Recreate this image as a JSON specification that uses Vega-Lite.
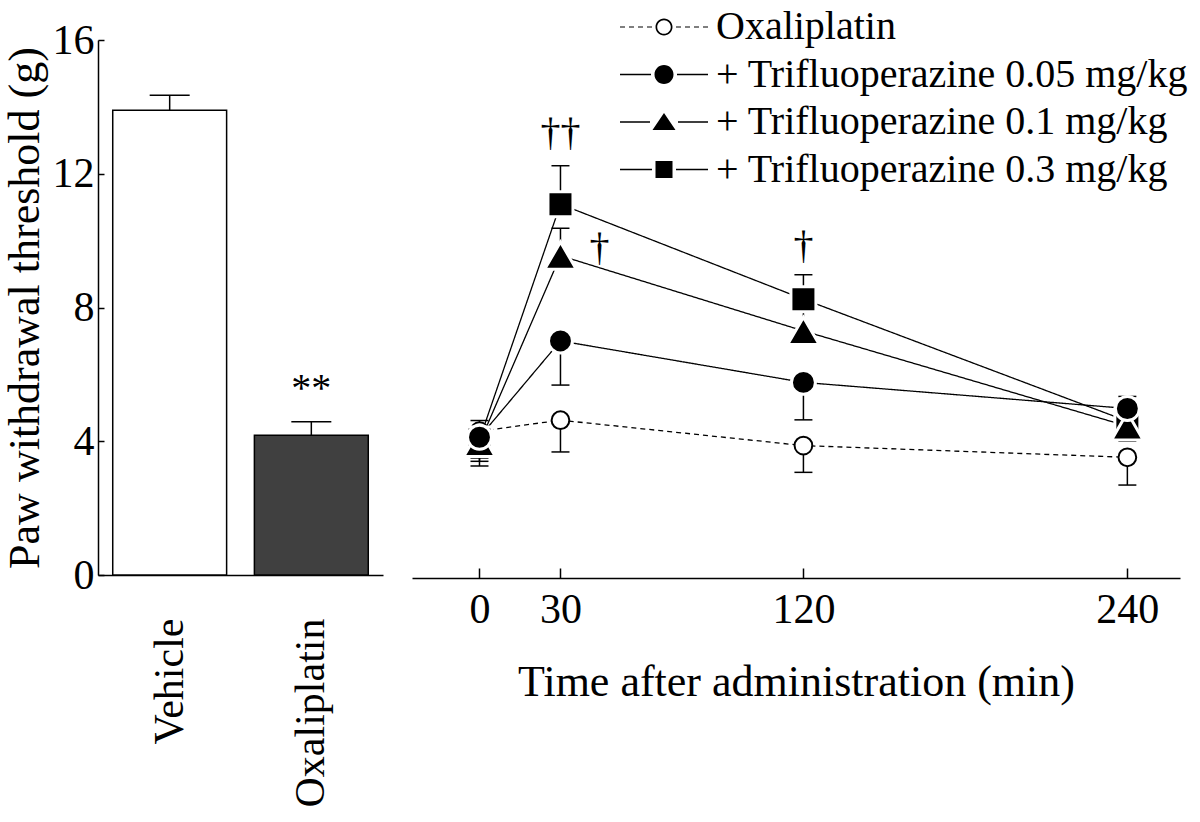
{
  "$schema": "https://vega.github.io/schema/vega-lite/v6.json",
  "background": "white",
  "padding": {"left": 2, "top": 7, "right": 5, "bottom": 5},
  "bounds": "flush",
  "spacing": 29,
  "resolve": {
    "scale": {"fill": "independent", "shape": "independent", "strokeDash": "independent"},
    "legend": {"shape": "independent", "fill": "independent", "strokeDash": "independent"}
  },
  "config": {
    "view": {"stroke": null},
    "font": "Liberation Serif",
    "axis": {"labelFont": "Liberation Serif", "titleFont": "Liberation Serif", "labelColor": "black", "titleColor": "black", "domainColor": "black", "tickColor": "black", "titleFontWeight": "normal", "grid": false, "domainWidth": 1.5, "tickWidth": 1.5, "labelOverlap": false, "labelFlush": false, "labelLimit": 0},
    "text": {"font": "Liberation Serif", "color": "black"}
  },
  "datasets": {
    "bars": [
      {"group": "Vehicle", "mean": 13.9, "end": 14.35},
      {"group": "Oxaliplatin", "mean": 4.18, "end": 4.58}
    ],
    "barnote": [
      {"group": "Oxaliplatin", "value": 5.2, "label": "**"}
    ],
    "lines": [
      {"series": "Oxaliplatin", "time": 0, "mean": 4.3, "end": 4.62},
      {"series": "Oxaliplatin", "time": 30, "mean": 4.63, "end": 3.68},
      {"series": "Oxaliplatin", "time": 120, "mean": 3.87, "end": 3.07},
      {"series": "Oxaliplatin", "time": 240, "mean": 3.52, "end": 2.69},
      {"series": "+ Trifluoperazine 0.3 mg/kg", "time": 0, "mean": 4.05, "end": 3.4},
      {"series": "+ Trifluoperazine 0.3 mg/kg", "time": 30, "mean": 11.09, "end": 12.24},
      {"series": "+ Trifluoperazine 0.3 mg/kg", "time": 120, "mean": 8.25, "end": 8.98},
      {"series": "+ Trifluoperazine 0.3 mg/kg", "time": 240, "mean": 4.6, "end": 4.1},
      {"series": "+ Trifluoperazine 0.1 mg/kg", "time": 0, "mean": 3.95, "end": 3.26},
      {"series": "+ Trifluoperazine 0.1 mg/kg", "time": 30, "mean": 9.55, "end": 10.37},
      {"series": "+ Trifluoperazine 0.1 mg/kg", "time": 120, "mean": 7.3, "end": 7.9},
      {"series": "+ Trifluoperazine 0.1 mg/kg", "time": 240, "mean": 4.45, "end": 4.0},
      {"series": "+ Trifluoperazine 0.05 mg/kg", "time": 0, "mean": 4.12, "end": 3.5},
      {"series": "+ Trifluoperazine 0.05 mg/kg", "time": 30, "mean": 7.0, "end": 5.68},
      {"series": "+ Trifluoperazine 0.05 mg/kg", "time": 120, "mean": 5.76, "end": 4.64},
      {"series": "+ Trifluoperazine 0.05 mg/kg", "time": 240, "mean": 4.98, "end": 5.34}
    ],
    "notes": [
      {"time": 30, "value": 12.86, "label": "††"},
      {"time": 44.5, "value": 9.42, "label": "†"},
      {"time": 120, "value": 9.48, "label": "†"}
    ]
  },
  "hconcat": [
    {
      "width": 285,
      "height": 535,
      "data": {"name": "bars"},
      "layer": [
        {
          "mark": {"type": "bar", "stroke": "black", "strokeWidth": 1.5},
          "encoding": {
            "x": {"field": "group", "type": "nominal", "sort": ["Vehicle", "Oxaliplatin"], "scale": {"paddingInner": 0.196, "paddingOuter": 0.104}, "axis": {"title": null, "labelAngle": -90, "labelFontSize": 42, "ticks": false, "labelPadding": 43, "labelLimit": 0}},
            "y": {"field": "mean", "type": "quantitative", "scale": {"domain": [0, 16], "nice": false}, "axis": {"title": "Paw withdrawal threshold (g)", "titleFontSize": 44, "labelFontSize": 42, "values": [0, 4, 8, 12, 16], "tickSize": -6, "labelPadding": 10, "titlePadding": 5}},
            "fill": {"field": "group", "type": "nominal", "scale": {"domain": ["Vehicle", "Oxaliplatin"], "range": ["#ffffff", "#404040"]}, "legend": null}
          }
        },
        {
          "mark": {"type": "rule", "color": "black", "strokeWidth": 1.5},
          "encoding": {
            "x": {"field": "group", "type": "nominal", "sort": ["Vehicle", "Oxaliplatin"]},
            "y": {"field": "mean", "type": "quantitative", "title": "Paw withdrawal threshold (g)"},
            "y2": {"field": "end"}
          }
        },
        {
          "mark": {"type": "point", "shape": "stroke", "size": 1600, "color": "black", "strokeWidth": 1.5, "opacity": 1},
          "encoding": {
            "x": {"field": "group", "type": "nominal", "sort": ["Vehicle", "Oxaliplatin"]},
            "y": {"field": "end", "type": "quantitative", "title": "Paw withdrawal threshold (g)"}
          }
        },
        {
          "data": {"name": "barnote"},
          "mark": {"type": "text", "fontSize": 40, "baseline": "alphabetic", "align": "center"},
          "encoding": {
            "x": {"field": "group", "type": "nominal", "sort": ["Vehicle", "Oxaliplatin"]},
            "y": {"field": "value", "type": "quantitative", "title": "Paw withdrawal threshold (g)"},
            "text": {"field": "label"}
          }
        }
      ]
    },
    {
      "width": 768,
      "height": 535,
      "layer": [
        {
          "data": {"name": "lines"},
          "mark": {"type": "point", "filled": true, "color": "black", "opacity": 0},
          "encoding": {
            "x": {"field": "time", "type": "quantitative", "scale": {"domain": [-25, 259.5], "nice": false, "zero": false}, "axis": {"title": "Time after administration (min)", "titleFontSize": 44, "labelFontSize": 42, "values": [0, 30, 120, 240], "tickSize": -10, "labelPadding": 21, "titlePadding": 30, "offset": 3}},
            "y": {"field": "mean", "type": "quantitative", "scale": {"domain": [0, 16], "nice": false}, "axis": null},
            "shape": {
              "field": "series", "type": "nominal",
              "scale": {
                "domain": ["Oxaliplatin", "+ Trifluoperazine 0.05 mg/kg", "+ Trifluoperazine 0.1 mg/kg", "+ Trifluoperazine 0.3 mg/kg"],
                "range": [
                  "M-4.4,-0.06H-3.9V0.06H-4.4ZM-3.5,-0.06H-3V0.06H-3.5ZM-2.6,-0.06H-2.1V0.06H-2.6ZM-1.7,-0.06H-1.2V0.06H-1.7ZM1.2,-0.06H1.7V0.06H1.2ZM2.1,-0.06H2.6V0.06H2.1ZM3,-0.06H3.5V0.06H3ZM3.9,-0.06H4.4V0.06H3.9ZM-0.85,0A0.85,0.85,0,1,1,0.85,0A0.85,0.85,0,1,1,-0.85,0ZM-0.68,0A0.68,0.68,0,1,0,0.68,0A0.68,0.68,0,1,0,-0.68,0Z",
                  "M-4.4,-0.07H-1.3V0.07H-4.4ZM1.3,-0.07H4.4V0.07H1.3ZM-0.95,0A0.95,0.95,0,1,1,0.95,0A0.95,0.95,0,1,1,-0.95,0Z",
                  "M-4.4,-0.07H-1.4V0.07H-4.4ZM1.4,-0.07H4.4V0.07H1.4ZM0,-0.9L1.15,0.8L-1.15,0.8Z",
                  "M-4.4,-0.07H-1.2V0.07H-4.4ZM1.2,-0.07H4.4V0.07H1.2ZM-0.85,-0.85H0.85V0.85H-0.85Z"
                ]
              },
              "legend": {
                "title": null,
                "orient": "none",
                "legendX": 232,
                "legendY": -33,
                "padding": 0,
                "symbolSize": 400,
                "symbolOpacity": 1,
                "symbolFillColor": "black",
                "symbolStrokeWidth": 0,
                "labelFont": "Liberation Serif",
                "labelFontSize": 40,
                "labelColor": "black",
                "labelLimit": 2000,
                "labelOffset": 32,
                "rowPadding": 7.5
              }
            }
          }
        },
        {
          "data": {"name": "lines"},
          "mark": {"type": "line", "color": "black", "strokeWidth": 1.3},
          "encoding": {
            "x": {"field": "time", "type": "quantitative"},
            "y": {"field": "mean", "type": "quantitative", "axis": null},
            "detail": {"field": "series", "type": "nominal"},
            "strokeDash": {"field": "series", "type": "nominal", "scale": {"domain": ["Oxaliplatin", "+ Trifluoperazine 0.05 mg/kg", "+ Trifluoperazine 0.1 mg/kg", "+ Trifluoperazine 0.3 mg/kg"], "range": [[5, 4], [1, 0], [1, 0], [1, 0]]}, "legend": null}
          }
        },
        {
          "data": {"name": "lines"},
          "mark": {"type": "rule", "color": "black", "strokeWidth": 1.5},
          "encoding": {
            "x": {"field": "time", "type": "quantitative"},
            "y": {"field": "mean", "type": "quantitative", "axis": null},
            "y2": {"field": "end"}
          }
        },
        {
          "data": {"name": "lines"},
          "mark": {"type": "point", "shape": "stroke", "size": 324, "color": "black", "strokeWidth": 1.5, "opacity": 1},
          "encoding": {
            "x": {"field": "time", "type": "quantitative"},
            "y": {"field": "end", "type": "quantitative", "axis": null}
          }
        },
        {
          "data": {"name": "lines"},
          "mark": {"type": "point", "filled": true, "opacity": 1},
          "encoding": {
            "x": {"field": "time", "type": "quantitative"},
            "y": {"field": "mean", "type": "quantitative", "axis": null},
            "shape": {"condition": [{"test": "datum.series === '+ Trifluoperazine 0.1 mg/kg'", "value": "triangle-up"}, {"test": "datum.series === '+ Trifluoperazine 0.3 mg/kg'", "value": "square"}], "value": "circle"},
            "fill": {"condition": {"test": "datum.series === 'Oxaliplatin'", "value": "white"}, "value": "black"},
            "stroke": {"condition": {"test": "datum.series === 'Oxaliplatin'", "value": "black"}, "value": "white"},
            "strokeWidth": {"condition": {"test": "datum.series === 'Oxaliplatin'", "value": 2}, "value": 3},
            "size": {"condition": [{"test": "datum.series === 'Oxaliplatin'", "value": 314}, {"test": "datum.series === '+ Trifluoperazine 0.1 mg/kg'", "value": 1000}, {"test": "datum.series === '+ Trifluoperazine 0.3 mg/kg'", "value": 625}], "value": 573}
          }
        },
        {
          "data": {"name": "notes"},
          "mark": {"type": "text", "fontSize": 40, "baseline": "alphabetic", "align": "center"},
          "encoding": {
            "x": {"field": "time", "type": "quantitative"},
            "y": {"field": "value", "type": "quantitative", "axis": null},
            "text": {"field": "label"}
          }
        }
      ]
    }
  ]
}
